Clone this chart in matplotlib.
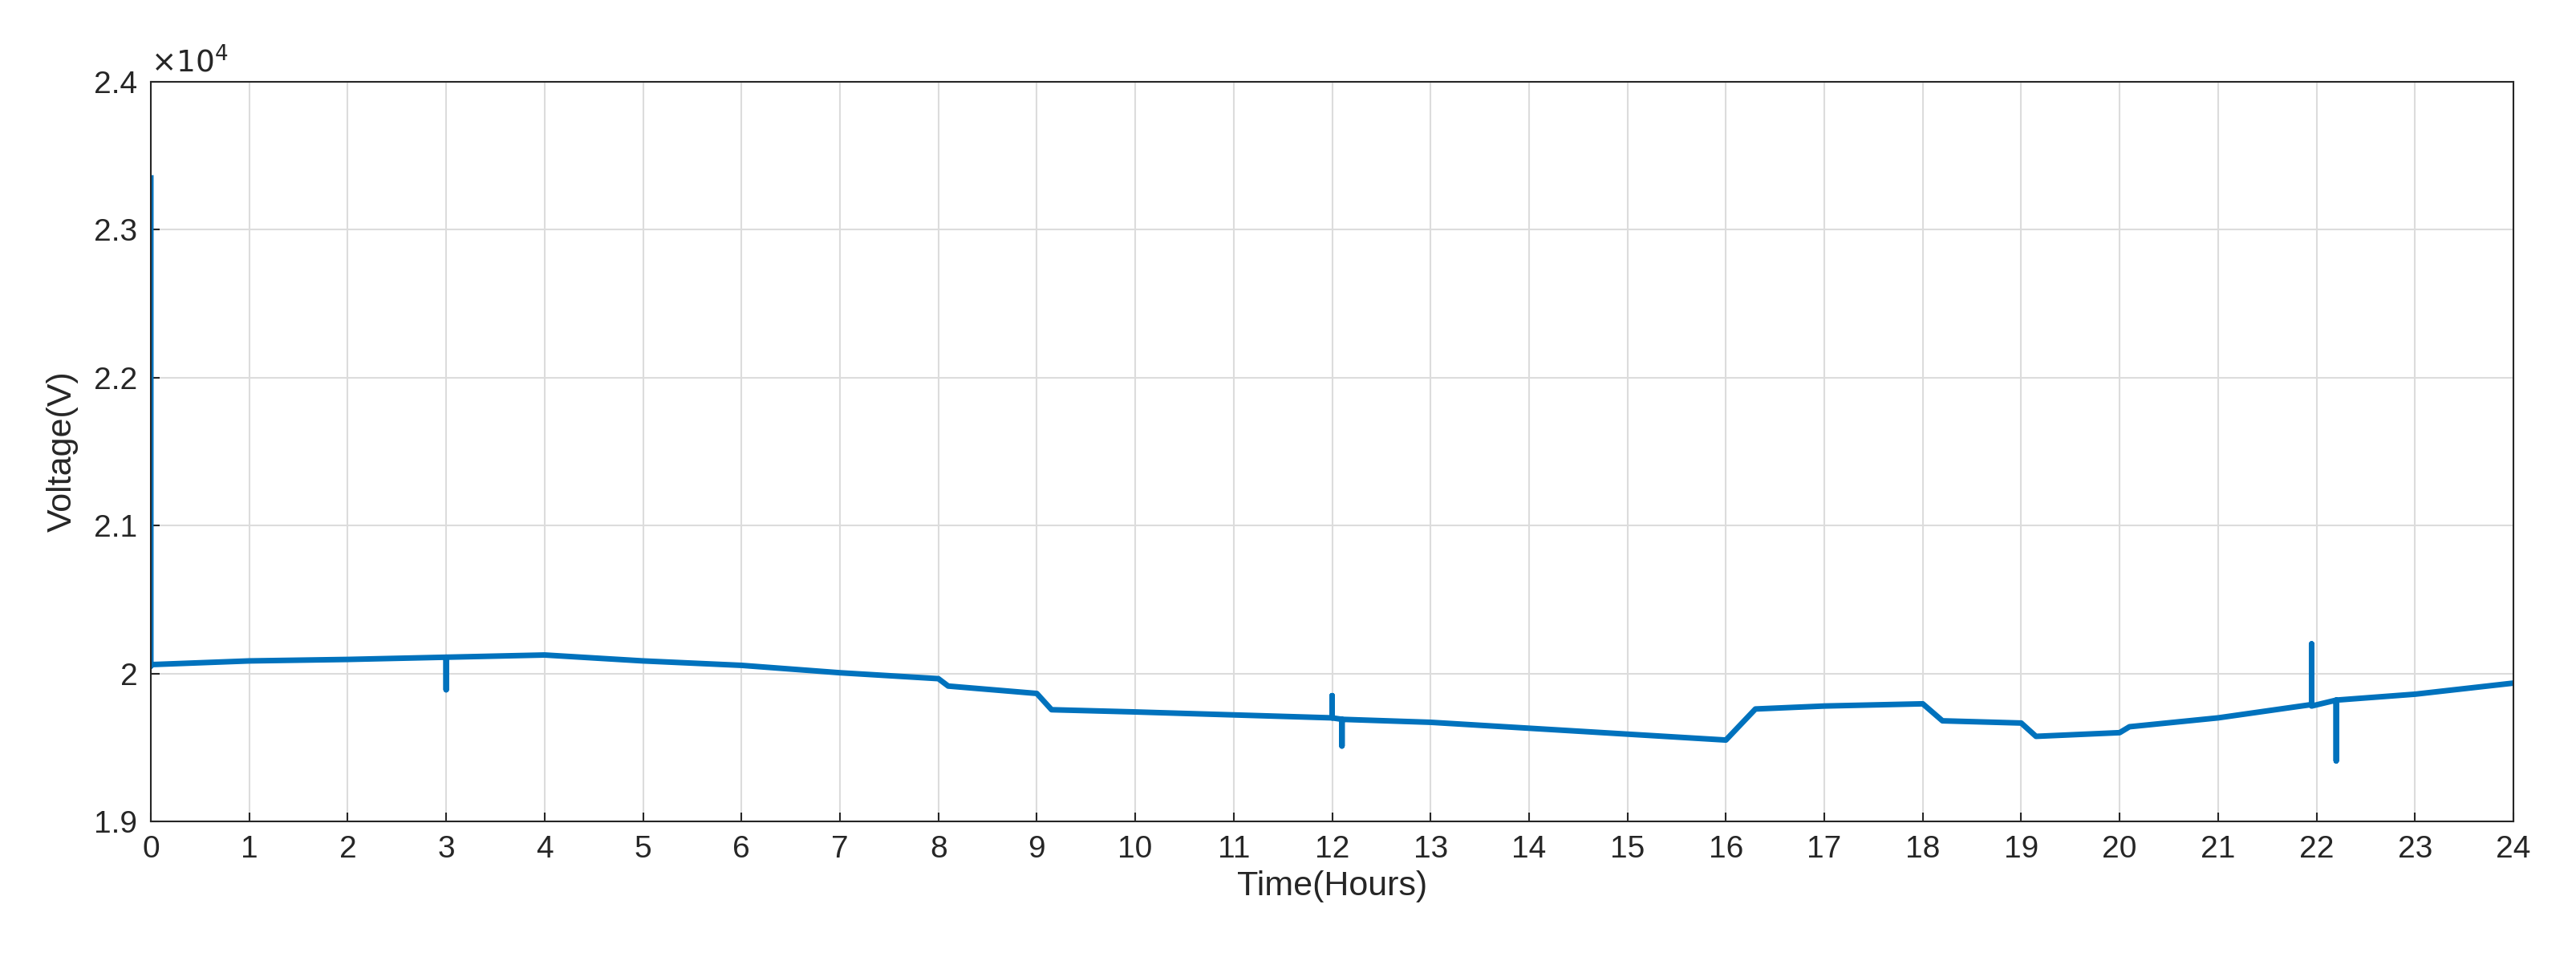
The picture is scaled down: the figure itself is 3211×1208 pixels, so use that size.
import matplotlib
matplotlib.use("Agg")
import matplotlib.pyplot as plt
import numpy as np

time_h = [0, 0, 0, 1, 2, 3, 3, 3, 4, 5, 6, 7, 8, 8.1, 9, 9.15, 10, 11, 12, 12, 12, 12.1, 12.1, 12.1,
          13, 14, 15, 16, 16.3, 17, 18, 18.2, 19, 19.15, 20, 20.1, 21, 21.95, 21.95, 21.95,
          22.2, 22.2, 22.2, 23, 24]
voltage = [23350, 20050, 20060, 20085, 20095, 20110, 19890, 20110, 20125, 20085, 20055, 20005, 19965,
           19915, 19865, 19755, 19740, 19720, 19700, 19850, 19700, 19690, 19510, 19690,
           19670, 19630, 19590, 19550, 19760, 19780, 19795, 19680, 19665, 19575, 19600, 19640,
           19700, 19790, 20200, 19780, 19820, 19410, 19820, 19860, 19935]

plt.rcParams['font.family'] = ['Arial', 'Liberation Sans', 'DejaVu Sans']
fig = plt.figure(figsize=(32.11, 12.08), dpi=100)
ax = fig.add_axes([188/3211, 1-1024/1208, (3133-188)/3211, (1024-102)/1208])
ax.plot(time_h, np.array(voltage)/1e4, color=(0, 0.447, 0.741), lw=5)
ax.set_xlim(0, 24)
ax.set_ylim(1.9, 2.4)
ax.set_xticks(range(25))
ax.set_yticks([1.9, 2.0, 2.1, 2.2, 2.3, 2.4])
ax.set_yticklabels(['1.9', '2', '2.1', '2.2', '2.3', '2.4'])
ax.grid(True, color='#dcdcdc', lw=1.5)
ax.tick_params(labelsize=28, direction='in', length=8, width=1.5, colors='#262626', pad=12)
for s in ax.spines.values():
    s.set_color('#262626'); s.set_linewidth(1.5)
ax.set_xlabel('Time(Hours)', fontsize=31, color='#262626', labelpad=6)
ax.set_ylabel('Voltage(V)', fontsize=31, color='#262626', labelpad=14)
ax.text(0, 1.005, r'$\times10^4$', transform=ax.transAxes, fontsize=27, color='#262626', va='bottom')
fig.savefig('out.png', dpi=100)
